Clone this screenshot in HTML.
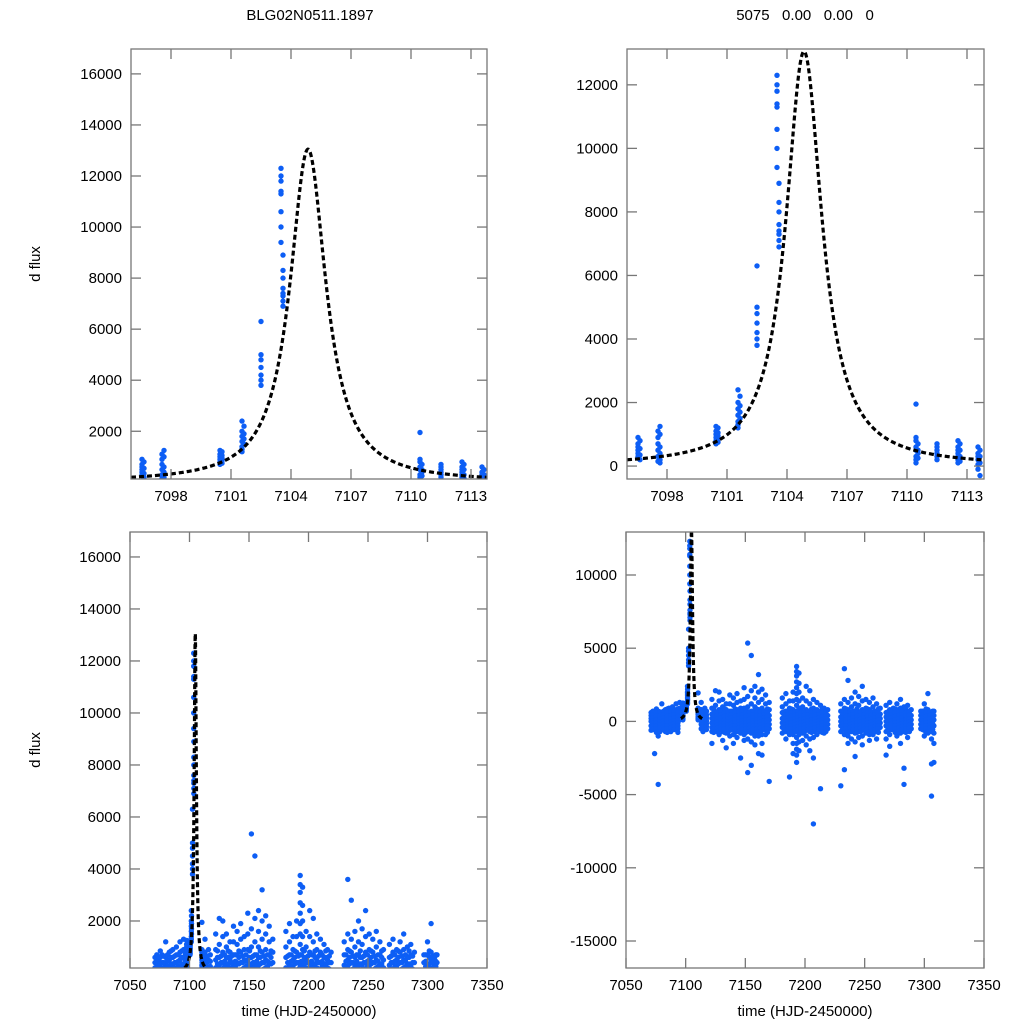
<!DOCTYPE html>
<html><head><meta charset="utf-8"><style>
html,body{margin:0;padding:0;background:#fff;width:1024px;height:1024px;overflow:hidden}
svg{display:block;font-family:"Liberation Sans",Arial,sans-serif}
</style></head><body>
<svg id="root" width="1024" height="1024" viewBox="0 0 1024 1024">
<text x="310" y="20" font-size="15" text-anchor="middle">BLG02N0511.1897</text>
<text x="805" y="20" font-size="15" text-anchor="middle" xml:space="preserve">5075   0.00   0.00   0</text>
<text transform="translate(40,264) rotate(-90)" font-size="15" text-anchor="middle">d flux</text>
<text transform="translate(40,750) rotate(-90)" font-size="15" text-anchor="middle">d flux</text>
<text x="309" y="1016" font-size="15" text-anchor="middle">time (HJD-2450000)</text>
<text x="805" y="1016" font-size="15" text-anchor="middle">time (HJD-2450000)</text>
</svg>
<script>
// event (zoom) data
const evtTimes = [7096.55,7096.65,7097.55,7097.65,7100.45,7100.55,7101.55,7101.65,7102.5,7103.5,7103.6,7110.45,7110.55,7111.5,7112.55,7112.65,7113.55,7113.65];
const evtFluxes = [
 [900,700,600,500,400,300,250],[800,550,350,200],
 [1100,900,700,500,300,150],[1250,1000,600,400,200,100],
 [1250,1100,1000,900,800,700],[1200,1050,950,850,750],
 [2400,2000,1800,1600,1400,1300,1200],[2200,1900,1700,1500],
 [6300,5000,4800,4500,4200,4000,3800],
 [12300,12000,11800,11400,11300,10600,10000,9400],
 [8900,8300,8000,7600,7400,7300,7100,6900],
 [1950,900,800,600,500,300,200,100],[700,500,400,250],
 [700,600,500,400,300,200],
 [800,600,500,400,300,200,100],[700,500,300,150],
 [600,400,300,200,50,-100],[500,300,100,-300]
];
// full season data
const nightTimes = [7071,7074,7077,7080,7083,7086,7089,7092,7095,
 7113,7116,7122,7125,7128,7131,7134,7137,7140,7143,7146,7149,7152,7155,7158,7161,7164,7167,7170,
 7181,7184,7187,7190,7193,7195,7198,7201,7204,7207,7210,7213,7216,7219,
 7230,7233,7236,7239,7242,7245,7248,7251,7254,7257,7260,7263,
 7268,7271,7274,7277,7280,7283,7286,7289,
 7297,7300,7303,7306,7308];
const nightFluxes = [
 [600,400,200,0,-300,-600],[500,300,100,-200,-500,-2200],[700,400,200,-100,-400,-1000,-4300],
 [1200,600,300,100,-200,-500],[800,500,200,0,-300,-700],[900,600,300,100,-200,-400],
 [1000,700,400,200,-100,-300],[1200,800,500,200,0,-200],[1300,900,600,300,100],
 [1300,800,400,100,-200,-500],[900,500,200,-100,-400],
 [1500,900,500,200,-100,-400,-700,-1500],[2100,1100,600,300,0,-300,-600],
 [2000,1400,800,400,100,-200,-500,-900],[1500,1000,600,300,0,-300,-700,-1300],
 [1200,800,500,200,-100,-400,-800,-1800],[1800,1200,700,300,0,-300,-600,-1000],
 [1600,1100,700,400,100,-200,-500,-900,-1500],[1900,1300,800,400,100,-200,-600,-1100],
 [1400,900,500,200,-100,-400,-800,-2500],[2300,1500,900,500,200,-100,-400,-900,-1300],
 [5350,1700,1000,600,300,0,-300,-700,-1200,-3500],[4500,2100,1200,700,300,0,-400,-800,-1400,-3000],
 [2400,1600,1000,600,300,0,-300,-700,-1000,-1600],[3200,2000,1300,800,400,100,-200,-600,-1000,-2200],
 [2200,1500,900,500,200,-100,-500,-900,-1500,-2300],[1800,1200,700,400,100,-200,-500,-900],
 [1300,800,400,100,-200,-500,-4100],
 [1600,1000,600,200,-100,-400,-800],[1900,1200,700,300,0,-300,-700,-1200],
 [1400,900,500,200,-100,-500,-900,-3800],[2000,1400,800,400,0,-400,-900,-1500,-2200],
 [3750,3400,3100,2700,2300,1900,1500,1100,700,300,0,-300,-700,-1100,-1500,-1900,-2300,-2800],
 [3300,2600,2000,1400,900,400,0,-400,-900,-1400,-2000],
 [1600,1000,500,200,-100,-400,-800,-1300],[2400,1400,800,400,100,-200,-600,-1000,-1600],
 [2100,1200,700,300,0,-300,-700,-1200,-2000],[1500,900,500,200,-200,-600,-1100,-2500,-7000],
 [1300,800,400,100,-200,-500,-900],[1100,600,300,0,-300,-700,-4600],
 [900,500,200,-100,-400,-800],[800,400,100,-200,-500],
 [1200,700,300,0,-300,-700,-4400],[3600,1500,900,500,200,-100,-400,-900,-3300],
 [2800,1300,800,400,100,-200,-500,-1000,-1500],[1600,1000,600,300,0,-300,-700,-1200],
 [2000,1200,700,300,0,-400,-800,-1400,-2400],[1700,1100,600,300,0,-300,-700,-1100],
 [2400,1400,800,400,100,-200,-600,-1000,-1600],[1500,900,500,200,-100,-400,-800],
 [1300,800,400,100,-200,-500,-900,-1300],[1600,1000,500,200,-100,-500,-900],
 [1200,700,300,0,-300,-700,-1200],[900,500,200,-100,-400],
 [1100,600,300,0,-300,-700,-1200,-2300],[1300,800,400,100,-200,-500,-900,-1700],
 [900,500,200,-100,-400],[1200,800,400,100,-200,-600,-1000],
 [1500,900,500,200,-100,-400,-800,-1500],[1000,600,300,0,-300,-700,-3200,-4300],
 [1100,700,300,0,-300,-600,-1100],[800,400,100,-200,-500],
 [700,400,100,-200,-500],[1200,700,300,0,-300,-600,-1000],[1900,800,500,200,-100,-400,-800],
 [600,300,0,-300,-700,-1200,-2900,-5100],[700,400,100,-300,-800,-1500,-2800,-17000]
];
// intermediate nights (dense core of the baseline)
const nightTimesB = [7072.5,7075.5,7078.5,7081.5,7084.5,7087.5,7090.5,7093.5,
 7114.5,7117.5,7123.5,7126.5,7129.5,7132.5,7135.5,7138.5,7141.5,7144.5,7147.5,7150.5,7153.5,7156.5,7159.5,7162.5,7165.5,7168.5,
 7182.5,7185.5,7188.5,7191.5,7194,7196.5,7199.5,7202.5,7205.5,7208.5,7211.5,7214.5,7217.5,
 7231.5,7234.5,7237.5,7240.5,7243.5,7246.5,7249.5,7252.5,7255.5,7258.5,7261.5,
 7269.5,7272.5,7275.5,7278.5,7281.5,7284.5,7287.5,7298.5,7301.5,7304.5,7307];
const nightFluxesB = nightTimesB.map((t,i)=>[
 [700,450,250,50,-150,-350,-550],[850,600,350,100,-100,-300,-500,-750],[650,400,150,-50,-250,-450,-700]
][i%3]);
// model parameters (Lorentzian-like fit) and its plotted time span
const modelPeak = [13050];
const modelT0 = [7104.85];
const modelWidth = [1.1];
const modelSpan = [7096.0,7113.8];
const ticksXTop = [7098,7101,7104,7107,7110,7113];
const ticksXBot = [7050,7100,7150,7200,7250,7300,7350];
const ticksYTL = [2000,4000,6000,8000,10000,12000,14000,16000];
const ticksYTR = [0,2000,4000,6000,8000,10000,12000];
const ticksYBL = [2000,4000,6000,8000,10000,12000,14000,16000];
const ticksYBR = [-15000,-10000,-5000,0,5000,10000];

const NS="http://www.w3.org/2000/svg";
const root=document.getElementById('root');
function mk(tag,attrs,parent){const e=document.createElementNS(NS,tag);for(const k in attrs)e.setAttribute(k,attrs[k]);(parent||root).appendChild(e);return e;}
function model(t){const d=(t-modelT0[0])/modelWidth[0];return modelPeak[0]/(1+d*d);}

function panel(id,box,xr,yr,xt,yt,full){
  const g=mk('g',{});
  
  
  const sx=t=>box.x0+(t-xr[0])/(xr[1]-xr[0])*(box.x1-box.x0);
  const sy=v=>box.y1-(v-yr[0])/(yr[1]-yr[0])*(box.y1-box.y0);
  const cp=mk('clipPath',{id:'clip-'+id},g);
  mk('rect',{x:box.x0,y:box.y0,width:box.x1-box.x0,height:box.y1-box.y0},cp);
  const pg=mk('g',{'clip-path':'url(#clip-'+id+')'},g);
  const pts=mk('g',{fill:'#0d5ef5'},pg);
  
  
  const add=(times,fl)=>times.forEach((t,i)=>fl[i].forEach(v=>{
    const c=mk('circle',{cx:sx(t).toFixed(1),cy:sy(v).toFixed(1),r:2.7},pts);
    
    
  }));
  add(evtTimes,evtFluxes);
  if(full){add(nightTimes,nightFluxes);add(nightTimesB,nightFluxesB);}
  let d='';const n=600;
  const a=Math.max(xr[0],modelSpan[0]),b=Math.min(xr[1],modelSpan[1]);
  for(let i=0;i<=n;i++){const t=a+(b-a)*i/n;d+=(i?'L':'M')+sx(t).toFixed(2)+','+sy(model(t)).toFixed(2);}
  const m=mk('path',{d:d,fill:'none',stroke:'#000','stroke-width':3.2,'stroke-dasharray':'5,3'},pg);
  
  
  const fr=mk('rect',{x:box.x0,y:box.y0,width:box.x1-box.x0,height:box.y1-box.y0,fill:'none',stroke:'#777','stroke-width':1.3},g);
  
  
  xt.forEach(t=>{const x=sx(t);
    mk('line',{x1:x,x2:x,y1:box.y1,y2:box.y1-10,stroke:'#777','stroke-width':1.3},g);
    mk('line',{x1:x,x2:x,y1:box.y0,y2:box.y0+10,stroke:'#777','stroke-width':1.3},g);
    const tx=mk('text',{x:x,y:box.y1+22,'font-size':15,'text-anchor':'middle'},g);tx.textContent=t;
    
    
  });
  yt.forEach(v=>{const y=sy(v);
    mk('line',{x1:box.x0,x2:box.x0+10,y1:y,y2:y,stroke:'#777','stroke-width':1.3},g);
    mk('line',{x1:box.x1,x2:box.x1-10,y1:y,y2:y,stroke:'#777','stroke-width':1.3},g);
    const tx=mk('text',{x:box.x0-9,y:y+5,'font-size':15,'text-anchor':'end'},g);tx.textContent=v;
    
    
  });
}
panel('panel-top-left',{x0:131,x1:487,y0:49,y1:479},[7096.0,7113.8],[130,16975],ticksXTop,ticksYTL,false);
panel('panel-top-right',{x0:627,x1:984,y0:49,y1:479},[7096.0,7113.85],[-407,13128],ticksXTop,ticksYTR,false);
panel('panel-bottom-left',{x0:130,x1:487,y0:532,y1:968},[7050,7350],[192,16960],ticksXBot,ticksYBL,true);
panel('panel-bottom-right',{x0:626,x1:984,y0:532,y1:968},[7050,7350],[-16844,12937],ticksXBot,ticksYBR,true);
</script>
</body></html>
